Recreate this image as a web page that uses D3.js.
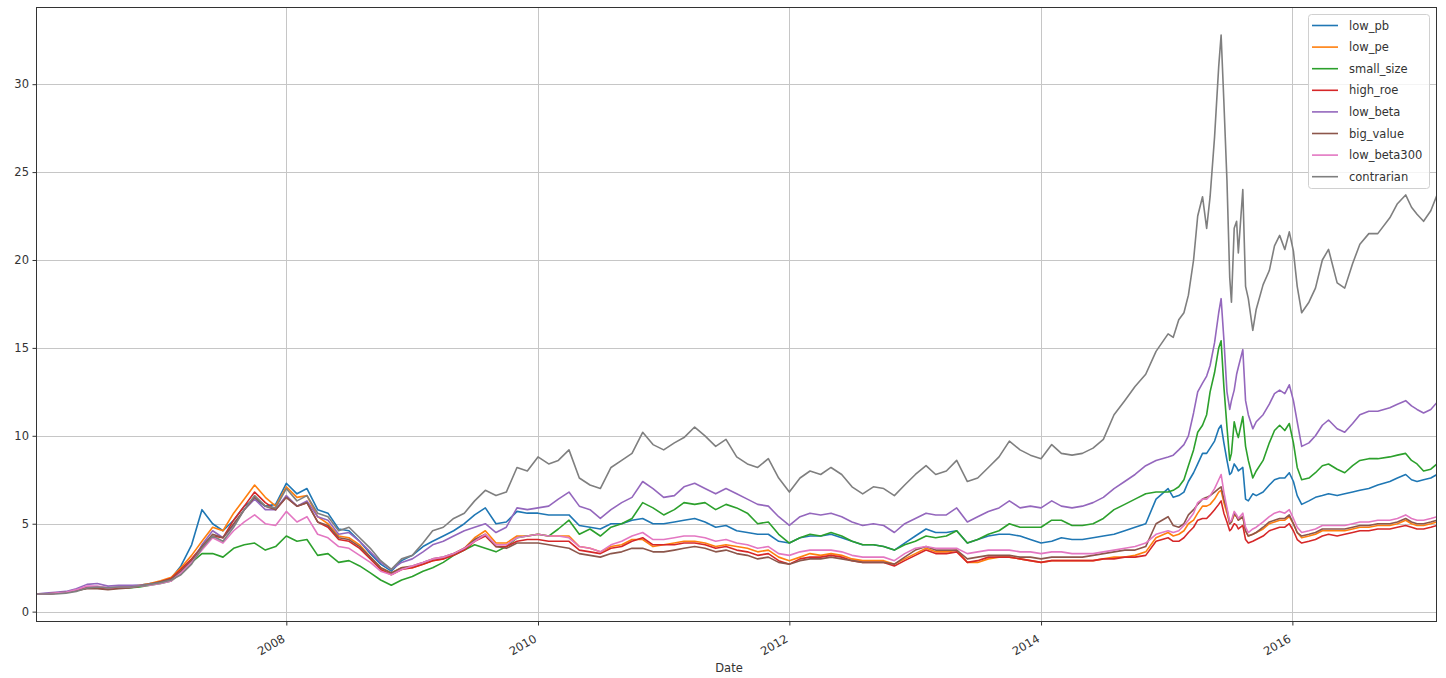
<!DOCTYPE html>
<html><head><meta charset="utf-8">
<script src="https://cdn.jsdelivr.net/npm/d3@7"></script>
<style>body{margin:0;background:#fff}svg{display:block}text{font-family:"DejaVu Sans",sans-serif}</style>
</head><body><svg id="c" width="1446" height="678"></svg>
<script>
const dates = [
"2006-01-04","2006-02-01","2006-03-01","2006-04-01","2006-05-01","2006-06-01","2006-07-01","2006-08-01","2006-09-01","2006-10-01","2006-11-01","2006-12-01",
"2007-01-01","2007-02-01","2007-03-01","2007-04-01","2007-05-01","2007-06-01","2007-07-01","2007-08-01","2007-09-01","2007-10-01","2007-11-01","2007-12-01",
"2008-01-01","2008-02-01","2008-03-01","2008-04-01","2008-05-01","2008-06-01","2008-07-01","2008-08-01","2008-09-01","2008-10-01","2008-11-01","2008-12-01",
"2009-01-01","2009-02-01","2009-03-01","2009-04-01","2009-05-01","2009-06-01","2009-07-01","2009-08-01","2009-09-01","2009-10-01","2009-11-01","2009-12-01",
"2010-01-01","2010-02-01","2010-03-01","2010-04-01","2010-05-01","2010-06-01","2010-07-01","2010-08-01","2010-09-01","2010-10-01","2010-11-01","2010-12-01",
"2011-01-01","2011-02-01","2011-03-01","2011-04-01","2011-05-01","2011-06-01","2011-07-01","2011-08-01","2011-09-01","2011-10-01","2011-11-01","2011-12-01",
"2012-01-01","2012-02-01","2012-03-01","2012-04-01","2012-05-01","2012-06-01","2012-07-01","2012-08-01","2012-09-01","2012-10-01","2012-11-01","2012-12-01",
"2013-01-01","2013-02-01","2013-03-01","2013-04-01","2013-05-01","2013-06-01","2013-07-01","2013-08-01","2013-09-01","2013-10-01","2013-11-01","2013-12-01",
"2014-01-01","2014-02-01","2014-03-01","2014-04-01","2014-05-01","2014-06-01","2014-07-01","2014-08-01","2014-09-01","2014-10-01","2014-11-01","2014-12-01",
"2015-01-05","2015-01-20","2015-02-05","2015-02-20","2015-03-05","2015-03-20","2015-04-01","2015-04-15","2015-04-27","2015-05-07",
"2015-05-20","2015-06-01","2015-06-08","2015-06-16","2015-06-25","2015-07-03","2015-07-08","2015-07-16","2015-07-23","2015-07-28",
"2015-08-10","2015-08-18","2015-08-26","2015-09-08","2015-09-18","2015-10-08","2015-10-26","2015-11-10","2015-11-25","2015-12-10",
"2015-12-23","2016-01-04","2016-01-15","2016-01-28","2016-02-18","2016-03-08","2016-03-28","2016-04-15","2016-05-10","2016-06-01",
"2016-06-24","2016-07-15","2016-08-10","2016-09-05","2016-10-10","2016-11-01","2016-11-25","2016-12-12","2016-12-28","2017-01-16",
"2017-02-06","2017-02-24"];

const low_pb = [
1.0,1.0,1.05,1.1,1.25,1.4,1.4,1.35,1.4,1.45,1.5,1.6,
1.7,1.9,2.6,3.8,5.8,5.0,4.6,5.2,6.0,6.4,6.0,6.1,
7.3,6.7,7.0,5.8,5.6,4.7,4.6,4.0,3.3,2.7,2.3,2.9,
3.2,3.7,4.0,4.3,4.6,5.0,5.5,5.9,5.0,5.1,5.7,5.6,
5.6,5.5,5.5,5.5,4.9,4.8,4.7,5.0,5.0,5.2,5.3,5.0,
5.0,5.1,5.2,5.3,5.1,4.8,4.9,4.6,4.5,4.4,4.4,4.0,
3.9,4.2,4.3,4.3,4.4,4.2,4.0,3.8,3.8,3.7,3.5,3.9,
4.3,4.7,4.5,4.5,4.6,3.9,4.1,4.3,4.4,4.4,4.3,4.1,
3.9,4.0,4.2,4.1,4.1,4.2,4.3,4.4,4.6,4.8,5.0,6.4,
7.0,6.5,6.6,6.8,7.4,7.9,8.4,9.0,9.0,9.3,
9.7,10.4,10.6,9.6,8.6,7.8,7.9,8.4,8.2,8.0,
8.2,6.4,6.3,6.7,6.6,6.8,7.2,7.5,7.6,7.6,
7.9,7.4,6.6,6.1,6.3,6.5,6.6,6.7,6.6,6.7,
6.8,6.9,7.0,7.2,7.4,7.6,7.8,7.5,7.4,7.5,
7.6,7.8];

const low_pe = [
1.0,1.0,1.05,1.1,1.2,1.35,1.35,1.3,1.35,1.4,1.5,1.6,
1.75,1.95,2.5,3.2,4.0,4.8,4.6,5.6,6.4,7.2,6.5,6.0,
7.1,6.5,6.6,5.4,5.0,4.3,4.2,3.8,3.1,2.5,2.2,2.5,
2.5,2.7,2.9,3.0,3.3,3.6,4.2,4.6,3.9,3.9,4.3,4.3,
4.4,4.3,4.3,4.3,3.7,3.6,3.4,3.7,3.8,4.1,4.1,3.7,
3.8,3.9,4.0,4.0,3.9,3.7,3.8,3.7,3.6,3.4,3.5,3.1,
2.9,3.1,3.3,3.2,3.3,3.2,3.0,2.9,2.9,2.9,2.7,3.0,
3.3,3.6,3.4,3.4,3.5,2.8,2.8,3.0,3.1,3.1,3.0,2.9,
2.8,2.9,2.9,2.9,2.9,2.9,3.0,3.1,3.1,3.2,3.4,4.2,
4.5,4.3,4.4,4.6,5.0,5.2,5.6,6.0,6.0,6.1,
6.4,6.8,6.9,6.2,5.6,5.0,5.1,5.5,5.4,5.2,
5.4,4.6,4.3,4.4,4.5,4.7,5.0,5.1,5.2,5.2,
5.4,5.0,4.5,4.2,4.3,4.4,4.6,4.6,4.6,4.6,
4.7,4.8,4.8,4.9,4.9,5.0,5.2,5.0,4.9,4.9,
5.0,5.1];

const small_size = [
1.0,1.0,1.05,1.1,1.2,1.35,1.35,1.3,1.35,1.35,1.4,1.5,
1.6,1.75,2.2,2.8,3.3,3.3,3.1,3.6,3.8,3.9,3.5,3.7,
4.3,4.0,4.1,3.2,3.3,2.8,2.9,2.6,2.2,1.8,1.5,1.8,
2.0,2.3,2.5,2.8,3.2,3.5,3.8,3.6,3.4,3.7,4.2,4.3,
4.4,4.3,4.7,5.2,4.4,4.7,4.3,4.8,5.0,5.3,6.2,5.9,
5.5,5.8,6.2,6.1,6.2,5.8,6.1,5.9,5.6,5.0,5.1,4.4,
3.9,4.2,4.4,4.3,4.5,4.3,4.0,3.8,3.8,3.7,3.5,3.8,
4.0,4.3,4.2,4.3,4.6,3.9,4.1,4.4,4.6,5.0,4.8,4.8,
4.8,5.2,5.2,4.9,4.9,5.0,5.3,5.8,6.1,6.4,6.7,6.8,
6.8,6.9,7.1,7.5,8.3,9.2,10.2,10.6,11.2,12.5,
13.6,15.0,15.4,12.8,10.5,8.6,9.0,10.8,10.2,9.9,
11.1,9.4,8.6,7.6,8.0,8.6,9.6,10.3,10.6,10.3,
10.7,9.6,8.2,7.5,7.6,7.9,8.3,8.4,8.1,7.9,
8.3,8.6,8.7,8.7,8.8,8.9,9.0,8.6,8.4,8.0,
8.1,8.4];

const high_roe = [
1.0,1.0,1.05,1.1,1.2,1.35,1.35,1.3,1.35,1.4,1.45,1.55,
1.7,1.9,2.4,3.0,3.7,4.3,4.2,5.2,6.0,6.8,6.2,5.8,
6.5,6.0,6.2,5.1,4.8,4.1,4.0,3.6,3.0,2.4,2.1,2.4,
2.5,2.7,2.9,3.0,3.2,3.5,4.0,4.3,3.7,3.7,4.0,4.1,
4.1,4.0,4.0,4.0,3.5,3.4,3.3,3.6,3.7,4.0,4.2,3.8,
3.8,3.8,3.9,3.9,3.8,3.6,3.7,3.5,3.4,3.2,3.3,2.9,
2.7,3.0,3.1,3.1,3.2,3.1,2.9,2.8,2.8,2.8,2.6,2.9,
3.2,3.5,3.3,3.3,3.4,2.8,2.9,3.1,3.1,3.1,3.0,2.9,
2.8,2.9,2.9,2.9,2.9,2.9,3.0,3.0,3.1,3.1,3.2,4.0,
4.2,4.0,4.0,4.2,4.5,4.8,5.2,5.3,5.3,5.5,
5.8,6.1,6.3,5.6,5.1,4.6,4.7,5.0,4.9,4.7,
4.9,4.1,3.9,4.0,4.1,4.3,4.6,4.7,4.8,4.8,
5.0,4.6,4.1,3.9,4.0,4.1,4.3,4.4,4.3,4.4,
4.5,4.6,4.6,4.7,4.7,4.8,4.9,4.8,4.7,4.7,
4.8,4.9];

const low_beta = [
1.0,1.05,1.1,1.15,1.3,1.55,1.6,1.45,1.5,1.5,1.5,1.55,
1.65,1.8,2.2,2.8,3.8,4.6,4.2,4.9,5.8,6.4,5.8,5.8,
6.6,6.0,6.3,5.4,5.2,4.4,4.5,4.0,3.4,2.8,2.4,2.8,
3.0,3.4,3.8,4.0,4.3,4.6,4.8,5.0,4.5,4.8,5.9,5.8,
5.9,6.0,6.4,6.8,6.0,5.8,5.3,5.8,6.2,6.5,7.4,7.0,
6.5,6.6,7.1,7.3,7.0,6.7,7.0,6.7,6.4,6.1,6.0,5.4,
4.9,5.4,5.6,5.5,5.6,5.4,5.1,4.9,5.0,4.9,4.5,5.0,
5.3,5.6,5.5,5.5,5.9,5.1,5.4,5.7,5.9,6.3,5.9,6.0,
5.9,6.3,6.0,5.9,6.0,6.2,6.5,7.0,7.4,7.8,8.3,8.6,
8.8,8.9,9.2,9.5,10.0,11.3,12.5,13.0,13.4,14.0,
15.3,17.0,17.8,15.5,12.5,11.5,12.0,12.6,13.5,13.9,
14.9,12.0,11.2,10.4,10.8,11.2,11.8,12.4,12.6,12.4,
12.9,12.0,10.8,9.4,9.6,10.0,10.6,10.9,10.4,10.2,
10.7,11.2,11.4,11.4,11.6,11.8,12.0,11.7,11.5,11.3,
11.5,11.9];

const big_value = [
1.0,1.0,1.05,1.1,1.2,1.3,1.3,1.25,1.3,1.35,1.45,1.55,
1.7,1.85,2.3,2.9,3.7,4.4,4.2,5.0,5.8,6.5,6.0,5.8,
6.5,6.0,6.2,5.1,4.9,4.2,4.1,3.7,3.1,2.5,2.2,2.5,
2.6,2.8,3.0,3.1,3.3,3.6,4.1,4.4,3.7,3.6,3.9,3.9,
3.9,3.8,3.7,3.6,3.3,3.2,3.1,3.3,3.4,3.6,3.6,3.4,
3.4,3.5,3.6,3.7,3.6,3.4,3.5,3.3,3.2,3.0,3.1,2.8,
2.7,2.9,3.0,3.0,3.1,3.0,2.9,2.8,2.8,2.8,2.7,3.1,
3.5,3.7,3.5,3.5,3.5,3.0,3.1,3.2,3.2,3.2,3.1,3.1,
3.0,3.1,3.1,3.1,3.1,3.2,3.3,3.4,3.5,3.5,3.7,5.0,
5.4,4.9,4.8,5.0,5.5,5.8,6.1,6.4,6.5,6.6,
6.8,7.0,7.1,6.4,5.8,5.0,5.1,5.6,5.4,5.2,
5.4,4.6,4.3,4.4,4.5,4.8,5.1,5.2,5.3,5.3,
5.5,5.0,4.5,4.3,4.4,4.5,4.7,4.7,4.7,4.7,
4.8,4.9,4.9,5.0,5.0,5.1,5.3,5.1,5.0,5.0,
5.1,5.2];

const low_beta300 = [
1.0,1.0,1.05,1.1,1.25,1.45,1.45,1.35,1.4,1.4,1.45,1.5,
1.6,1.75,2.2,2.8,3.5,4.2,3.9,4.6,5.1,5.5,5.0,4.9,
5.7,5.1,5.4,4.4,4.2,3.7,3.6,3.2,2.8,2.3,2.1,2.4,
2.6,2.8,3.0,3.1,3.3,3.6,4.0,4.4,3.8,3.8,4.2,4.3,
4.4,4.3,4.3,4.2,3.7,3.6,3.4,3.8,4.0,4.3,4.5,4.1,
4.1,4.2,4.3,4.3,4.2,4.0,4.1,3.9,3.8,3.6,3.7,3.3,
3.2,3.4,3.5,3.5,3.5,3.4,3.2,3.1,3.1,3.1,2.9,3.3,
3.6,3.7,3.6,3.6,3.6,3.3,3.4,3.5,3.5,3.5,3.4,3.4,
3.3,3.4,3.4,3.3,3.3,3.3,3.4,3.5,3.6,3.7,3.9,4.4,
4.6,4.5,4.6,4.9,5.2,5.6,6.2,6.4,6.4,6.6,
7.0,7.5,7.8,6.8,5.9,5.1,5.2,5.7,5.5,5.3,
5.6,4.8,4.5,4.7,4.8,5.1,5.4,5.6,5.7,5.6,
5.8,5.3,4.8,4.5,4.6,4.7,4.9,4.9,4.9,4.9,
5.0,5.1,5.1,5.2,5.2,5.3,5.5,5.3,5.2,5.2,
5.3,5.4];

const contrarian = [
1.0,1.0,1.0,1.05,1.15,1.35,1.4,1.35,1.4,1.4,1.45,1.55,
1.65,1.8,2.1,2.7,3.6,4.3,4.0,4.8,5.8,6.6,6.0,5.9,
7.0,6.3,6.6,5.6,5.4,4.6,4.8,4.2,3.6,2.9,2.4,3.0,
3.2,3.9,4.6,4.8,5.3,5.6,6.3,6.9,6.6,6.8,8.2,8.0,
8.8,8.4,8.6,9.2,7.6,7.2,7.0,8.2,8.6,9.0,10.2,9.5,
9.2,9.6,9.9,10.5,10.0,9.4,9.8,8.8,8.4,8.2,8.7,7.6,
6.8,7.6,8.0,7.8,8.2,7.8,7.1,6.7,7.1,7.0,6.6,7.2,
7.8,8.3,7.8,8.0,8.6,7.4,7.6,8.2,8.8,9.7,9.2,8.9,
8.7,9.5,9.0,8.9,9.0,9.3,9.8,11.2,12.0,12.8,13.5,14.8,
15.8,15.6,16.6,17.0,18.0,20.0,22.5,23.6,21.8,23.6,
27.0,31.0,32.8,29.0,24.5,19.0,17.6,21.8,22.2,20.4,
24.0,18.5,17.8,16.0,17.2,18.6,19.4,20.8,21.4,20.6,
21.6,20.5,18.5,17.0,17.6,18.4,20.0,20.6,18.7,18.4,
19.8,20.9,21.5,21.5,22.4,23.2,23.7,23.0,22.6,22.2,
22.8,23.7];

const seriesNames = ["low_pb","low_pe","small_size","high_roe","low_beta","big_value","low_beta300","contrarian"];
const seriesValues = [low_pb,low_pe,small_size,high_roe,low_beta,big_value,low_beta300,contrarian];
const colors = ["#1f77b4","#ff7f0e","#2ca02c","#d62728","#9467bd","#8c564b","#e377c2","#7f7f7f"];
const yTicks = [0,5,10,15,20,25,30];
const xTickYears = [2008,2010,2012,2014,2016];

const parse = d3.timeParse("%Y-%m-%d");
const T = dates.map(parse);
const M = {l:36, t:7, r:1437, b:622};
const svg = d3.select("#c");
svg.append("rect").attr("width",1446).attr("height",678).attr("fill","#fff");

const x = d3.scaleTime().domain(d3.extent(T)).range([M.l, M.r]);
const flat = seriesValues.flat();
const lo = d3.min(flat), hi = d3.max(flat), pad = (hi-lo)*0.05;
const y = d3.scaleLinear().domain([lo-pad, hi+pad]).range([M.b, M.t]);
const xTicks = xTickYears.map(yr => new Date(yr,0,1));

// grid
const grid = svg.append("g").attr("stroke","#c6c6c6").attr("stroke-width",1);
grid.selectAll(".gx").data(xTicks).join("line")
  .attr("x1",d=>Math.round(x(d))+0.5).attr("x2",d=>Math.round(x(d))+0.5)
  .attr("y1",M.t).attr("y2",M.b);
grid.selectAll(".gy").data(yTicks).join("line")
  .attr("y1",d=>Math.round(y(d))+0.5).attr("y2",d=>Math.round(y(d))+0.5)
  .attr("x1",M.l).attr("x2",M.r);

// lines
svg.append("clipPath").attr("id","clip").append("rect")
  .attr("x",M.l).attr("y",M.t).attr("width",M.r-M.l).attr("height",M.b-M.t);
const line = d3.line().x((d,i)=>x(T[i])).y(d=>y(d));
svg.append("g").attr("clip-path","url(#clip)")
  .selectAll("path").data(seriesValues).join("path")
  .attr("d",line).attr("fill","none")
  .attr("stroke",(d,i)=>colors[i]).attr("stroke-width",1.6)
  .attr("stroke-linejoin","round");

// axes
const ya = svg.append("g").attr("transform",`translate(${M.l},0)`)
  .call(d3.axisLeft(y).tickValues(yTicks).tickSize(3.5).tickPadding(3.5));
ya.select(".domain").remove();
ya.selectAll("line").attr("stroke","#333");
ya.selectAll("text").attr("font-family","DejaVu Sans").attr("font-size",11.5).attr("fill","#333");

const xa = svg.append("g").attr("transform",`translate(0,${M.b})`)
  .call(d3.axisBottom(x).tickValues(xTicks).tickFormat(d3.timeFormat("%Y")).tickSize(3.5));
xa.select(".domain").remove();
xa.selectAll("line").attr("stroke","#333");
xa.selectAll("text").attr("font-family","DejaVu Sans").attr("font-size",11.5).attr("fill","#333")
  .attr("y",0).attr("dy",0).attr("text-anchor","end")
  .attr("transform","translate(-1,19) rotate(-30)");

svg.append("text").attr("x",729).attr("y",672).attr("text-anchor","middle")
  .attr("font-size",11.5).attr("fill","#333").text("Date");

// frame
svg.append("rect").attr("x",M.l+0.5).attr("y",M.t+0.5)
  .attr("width",M.r-M.l-1).attr("height",M.b-M.t-1)
  .attr("fill","none").attr("stroke","#333").attr("stroke-width",1);

// legend
const lg = svg.append("g");
lg.append("rect").attr("x",1308.5).attr("y",14.5).attr("width",121).attr("height",174)
  .attr("rx",3).attr("fill","#fff").attr("fill-opacity",0.8).attr("stroke","#d0d0d0");
const rows = lg.selectAll(".row").data(seriesNames).join("g")
  .attr("transform",(d,i)=>`translate(0,${25.5+i*21.6})`);
rows.append("line").attr("x1",1312).attr("x2",1338)
  .attr("stroke",(d,i)=>colors[i]).attr("stroke-width",1.6);
rows.append("text").attr("x",1349).attr("dy","0.35em")
  .attr("font-size",11.5).attr("fill","#333").text(d=>d);
</script></body></html>
